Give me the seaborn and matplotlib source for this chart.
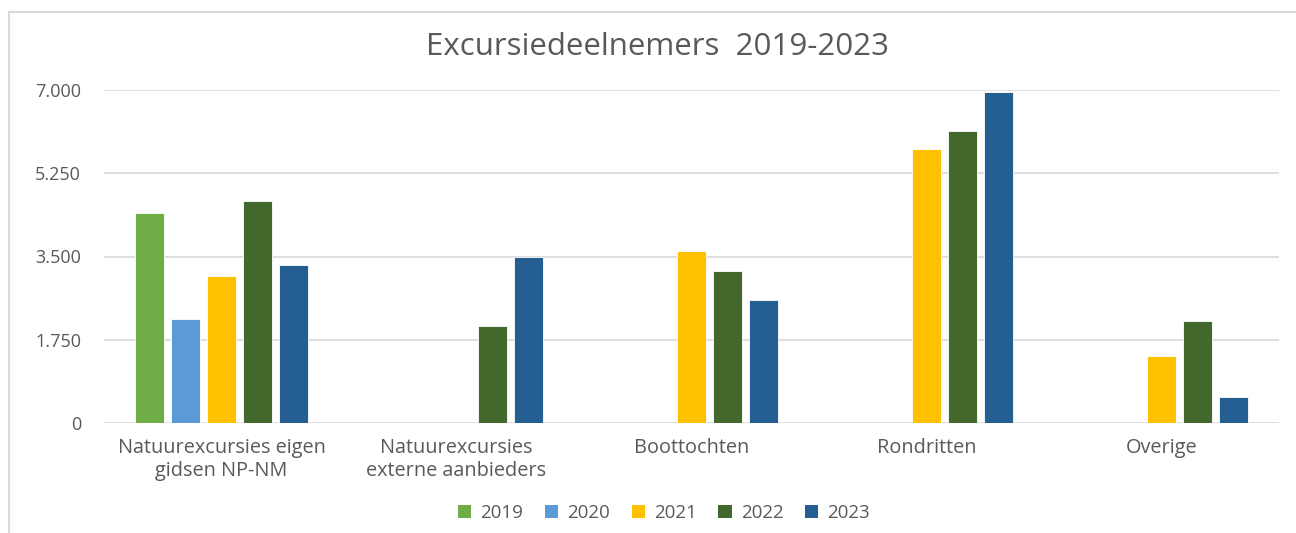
import numpy as np
import pandas as pd
import matplotlib
matplotlib.use("Agg")
import matplotlib.pyplot as plt
from matplotlib.patches import Rectangle, Patch
import seaborn as sns

categories = ["Natuurexcursies eigen\ngidsen NP-NM", "Natuurexcursies\nexterne aanbieders",
              "Boottochten", "Rondritten", "Overige"]
years = ["2019", "2020", "2021", "2022", "2023"]
v2019 = [4410, None, None, None, None]
v2020 = [2190, None, None, None, None]
v2021 = [3087, None, 3612, 5765, 1417]
v2022 = [4662, 2034, 3205, 6129, 2140]
v2023 = [3318, 3485, 2588, 6957, 537]
colors = ["#70AD47", "#5B9BD5", "#FFC000", "#43682B", "#255E91"]
yticks = [0, 1750, 3500, 5250, 7000]
ytick_labels = ["0", "1.750", "3.500", "5.250", "7.000"]
title = "Excursiedeelnemers  2019-2023"

rows = []
for y, vals in zip(years, [v2019, v2020, v2021, v2022, v2023]):
    for c, v in zip(categories, vals):
        if v is not None:
            rows.append({"cat": c, "year": y, "val": v})
df = pd.DataFrame(rows)

sns.set_theme(style="white")
plt.rcParams["font.family"] = ["Open Sans", "DejaVu Sans"]
txt = "#595959"

fig = plt.figure(figsize=(12.96, 5.33), dpi=100)
ax = fig.add_axes([104/1296, 1-423/533, (1279-104)/1296, (423-90)/533])

sns.barplot(data=df, x="cat", y="val", hue="year", order=categories, hue_order=years,
            palette=colors, width=0.766, gap=0.22, ax=ax, legend=False,
            edgecolor="white", linewidth=0.6, saturation=1)

ax.set_ylim(0, 7000)
ax.set_xlim(-0.5, len(categories) - 0.5)
ax.set_yticks(yticks)
ax.set_yticklabels(ytick_labels)
ax.yaxis.grid(True, color="#D9D9D9", linewidth=1.2)
ax.set_axisbelow(True)
for s in ax.spines.values():
    s.set_visible(False)
ax.tick_params(axis="both", length=0, colors=txt, labelsize=13)
ax.tick_params(axis="y", pad=16.5)
ax.tick_params(axis="x", pad=11)
for lbl in ax.get_xticklabels():
    lbl.set_linespacing(1.2)
    lbl.set_fontsize(14.3)
ax.set_xlabel("")
ax.set_ylabel("")

fig.text(658/1296, 1-47/533, title, ha="center", va="center", fontsize=22.5, color=txt)

handles = [Patch(facecolor=c, edgecolor="none") for c in colors]
fig.legend(handles, years, loc="center", bbox_to_anchor=(664/1296, 1-513/533), ncol=5,
           frameon=False, fontsize=13.5, handlelength=0.7, handleheight=0.7,
           handletextpad=0.5, columnspacing=1.15, labelcolor=txt)

fig.patches.append(Rectangle((9/1296, -0.1), 1.2, 1.1 - 12/533, transform=fig.transFigure,
                             fill=False, edgecolor="#D9D9D9", linewidth=1.5))

fig.savefig("out.png", dpi=100)
